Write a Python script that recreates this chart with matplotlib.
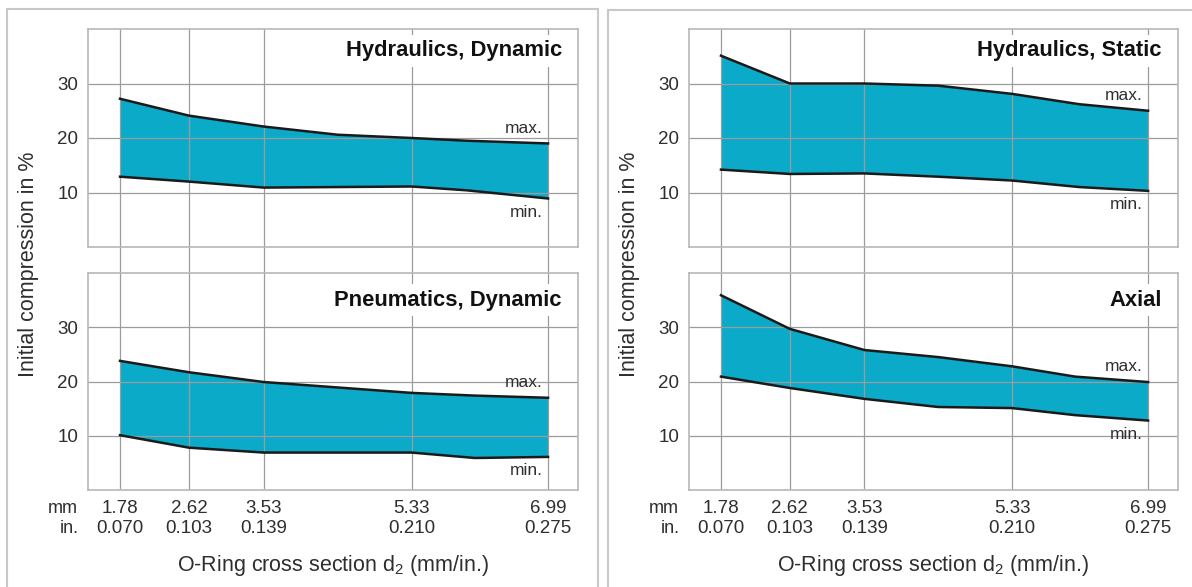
import matplotlib
matplotlib.use("Agg")
import matplotlib.pyplot as plt
from matplotlib.patches import Rectangle

# Data (mm cross section vs. initial compression %)
mm_ticks = [1.78, 2.62, 3.53, 5.33, 6.99]
in_ticks = ["0.070", "0.103", "0.139", "0.210", "0.275"]
y_ticks = [10, 20, 30]

hd_x = [1.78, 2.62, 3.53, 4.43, 5.33, 6.0, 6.99]
hd_max = [27.2, 24.1, 22.1, 20.6, 20.0, 19.5, 19.0]
hd_min = [12.9, 12.0, 10.9, 11.0, 11.1, 10.4, 8.9]

pd_x = [1.78, 2.62, 3.53, 5.33, 6.1, 6.99]
pd_max = [23.8, 21.7, 19.9, 17.9, 17.4, 17.0]
pd_min = [10.1, 7.8, 6.9, 6.9, 5.9, 6.1]

hs_x = [1.78, 2.62, 3.53, 4.43, 5.33, 6.15, 6.99]
hs_max = [35.1, 30.0, 30.0, 29.6, 28.1, 26.2, 25.0]
hs_min = [14.2, 13.4, 13.5, 12.9, 12.2, 11.0, 10.3]

ax_x = [1.78, 2.62, 3.53, 4.43, 5.33, 6.1, 6.99]
ax_max = [35.9, 29.7, 25.8, 24.5, 22.8, 20.9, 19.9]
ax_min = [20.9, 18.8, 16.8, 15.3, 15.1, 13.8, 12.8]

titles = ["Hydraulics, Dynamic", "Pneumatics, Dynamic", "Hydraulics, Static", "Axial"]

# Style
FILL = "#0aaac8"
LINE = "#1a1a1a"
GRID = "#9c9c9c"
SPINE = "#b8b8b8"
FRAME = "#c8c8c8"
TEXT = "#2e2e2e"

plt.rcParams["font.family"] = ["Liberation Sans", "DejaVu Sans"]
plt.rcParams["mathtext.fontset"] = "custom"
plt.rcParams["mathtext.rm"] = "Liberation Sans"
plt.rcParams["mathtext.it"] = "Liberation Sans:italic"

W, H = 1192, 587
fig = plt.figure(figsize=(W / 100, H / 100), dpi=100)

cols = [(88, 578), (689, 1178)]
rows = [(29, 247), (273, 490)]
gap = (rows[1][0] - rows[0][1]) / (rows[0][1] - rows[0][0])
title_y = [0.90, 0.875]


def add_ax(c, r):
    x0, x1 = cols[c]
    y0, y1 = rows[r]
    return fig.add_axes([x0 / W, 1 - y1 / H, (x1 - x0) / W, (y1 - y0) / H])


def draw(ax, x, lo, hi, title, row):
    ax.fill_between(x, lo, hi, color=FILL, lw=0, zorder=1)
    ax.plot(x, hi, color=LINE, lw=1.8, zorder=3)
    ax.plot(x, lo, color=LINE, lw=1.8, zorder=3)
    ax.set_xlim(1.39, 7.355)
    ax.set_ylim(0, 40)
    ax.set_xticks(mm_ticks)
    ax.set_yticks(y_ticks)
    ax.grid(True, color=GRID, lw=0.9)
    for s in ax.spines.values():
        s.set_color(SPINE)
        s.set_linewidth(1.2)
    ax.tick_params(length=0, colors=TEXT, labelsize=13.5)
    ax.tick_params(axis="y", pad=7)
    ax.text(0.967, title_y[row], title, transform=ax.transAxes, ha="right",
            va="center", fontsize=15.8, weight="bold", color="#111111",
            bbox=dict(boxstyle="square,pad=0.25", fc="white", ec="none"), zorder=4)
    ax.annotate("max.", xy=(x[-1], hi[-1]), xytext=(-4, 11), textcoords="offset points",
                ha="right", va="center", fontsize=12.5, color=TEXT, zorder=4)
    ax.annotate("min.", xy=(x[-1], lo[-1]), xytext=(-4, -10), textcoords="offset points",
                ha="right", va="center", fontsize=12.5, color=TEXT, zorder=4)


panels = [
    [(hd_x, hd_min, hd_max), (pd_x, pd_min, pd_max)],
    [(hs_x, hs_min, hs_max), (ax_x, ax_min, ax_max)],
]

for c in range(2):
    top = add_ax(c, 0)
    bot = add_ax(c, 1)
    x, lo, hi = panels[c][0]
    draw(top, x, lo, hi, titles[2 * c], 0)
    x, lo, hi = panels[c][1]
    draw(bot, x, lo, hi, titles[2 * c + 1], 1)
    top.tick_params(labelbottom=False)
    # vertical grid lines run on through the gap between the two plots
    for xv in mm_ticks:
        top.axvline(xv, ymin=-gap, ymax=0, clip_on=False, color=GRID, lw=0.9, zorder=0.5)
    bot.set_xticklabels([f"{m:.2f}\n{i}" for m, i in zip(mm_ticks, in_ticks)],
                        linespacing=1.22)
    bot.tick_params(axis="x", pad=7)
    bot.annotate("mm\nin.", xy=(0, 0), xycoords="axes fraction", xytext=(-7, -7),
                 textcoords="offset points", ha="right", va="top", fontsize=13,
                 linespacing=1.27, color=TEXT)
    xc = (cols[c][0] + cols[c][1]) / 2
    fig.text(xc / W, 1 - 566 / H, "O-Ring cross section d$_2$ (mm/in.)", ha="center",
             va="center", fontsize=15.5, color=TEXT)
    fig.text((cols[c][0] - 59) / W, 1 - 264 / H, "Initial compression in %", rotation=90,
             ha="center", va="center", fontsize=15.5, color=TEXT)

# light grey frames round the two halves
fig.add_artist(Rectangle((7 / W, -0.05), 591 / W, 1.05 - 9 / H, transform=fig.transFigure,
                         fill=False, ec=FRAME, lw=1.5))
fig.add_artist(Rectangle((608 / W, -0.05), 600 / W, 1.05 - 10 / H, transform=fig.transFigure,
                         fill=False, ec=FRAME, lw=1.5))

fig.savefig("out.png", dpi=100)
